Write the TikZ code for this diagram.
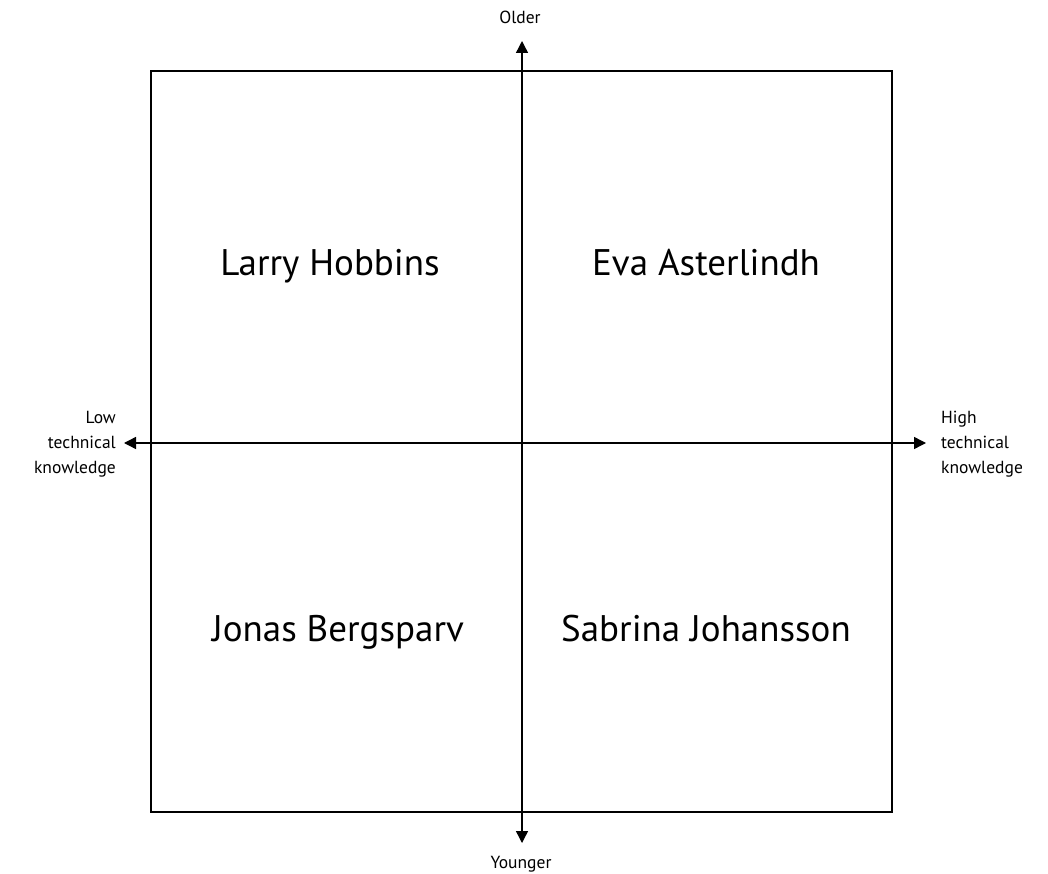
\documentclass[tikz,border=0pt]{standalone}
\usepackage{fontspec}
\setmainfont{PT Sans}
\usetikzlibrary{arrows.meta}

\begin{document}
\begin{tikzpicture}
      [x=1pt,y=-1pt,
       axis/.style={line width=1.4pt,-{Triangle[length=12pt,width=12pt]}},
       person/.style={font=\fontsize{37}{44}\selectfont,anchor=base},
       pole/.style={font=\fontsize{17.5}{25}\selectfont,inner sep=0pt}]
      \useasboundingbox (0,0) rectangle (1048,874);
      % frame
      \draw[line width=1.3pt] (151,71) rectangle (892,812);
      % axes
      \coordinate (o) at (522,443);
      \coordinate (top) at (522,41);
      \coordinate (bottom) at (522,843);
      \coordinate (left) at (124,443);
      \coordinate (right) at (926,443);
      \draw[axis] (o) -- (top);
      \draw[axis] (o) -- (bottom);
      \draw[axis] (o) -- (left);
      \draw[axis] (o) -- (right);
      % pole labels
      \node[pole,anchor=base] (older) at (520,24) {Older};
      \node[pole,anchor=base] (younger) at (521,868) {Younger};
      \node[pole,anchor=base east,align=right] (low) at (116,473)
        {Low\\technical\\knowledge};
      \node[pole,anchor=base west,align=left] (high) at (941,473)
        {High\\technical\\knowledge};
      % quadrants
      \node[person] (larry) at (330,276) {Larry Hobbins};
      \node[person] (eva) at (706,276) {Eva Asterlindh};
      \node[person] (jonas) at (338,641) {Jonas Bergsparv};
      \node[person] (sabrina) at (706,641) {Sabrina Johansson};
\end{tikzpicture}
\end{document}
